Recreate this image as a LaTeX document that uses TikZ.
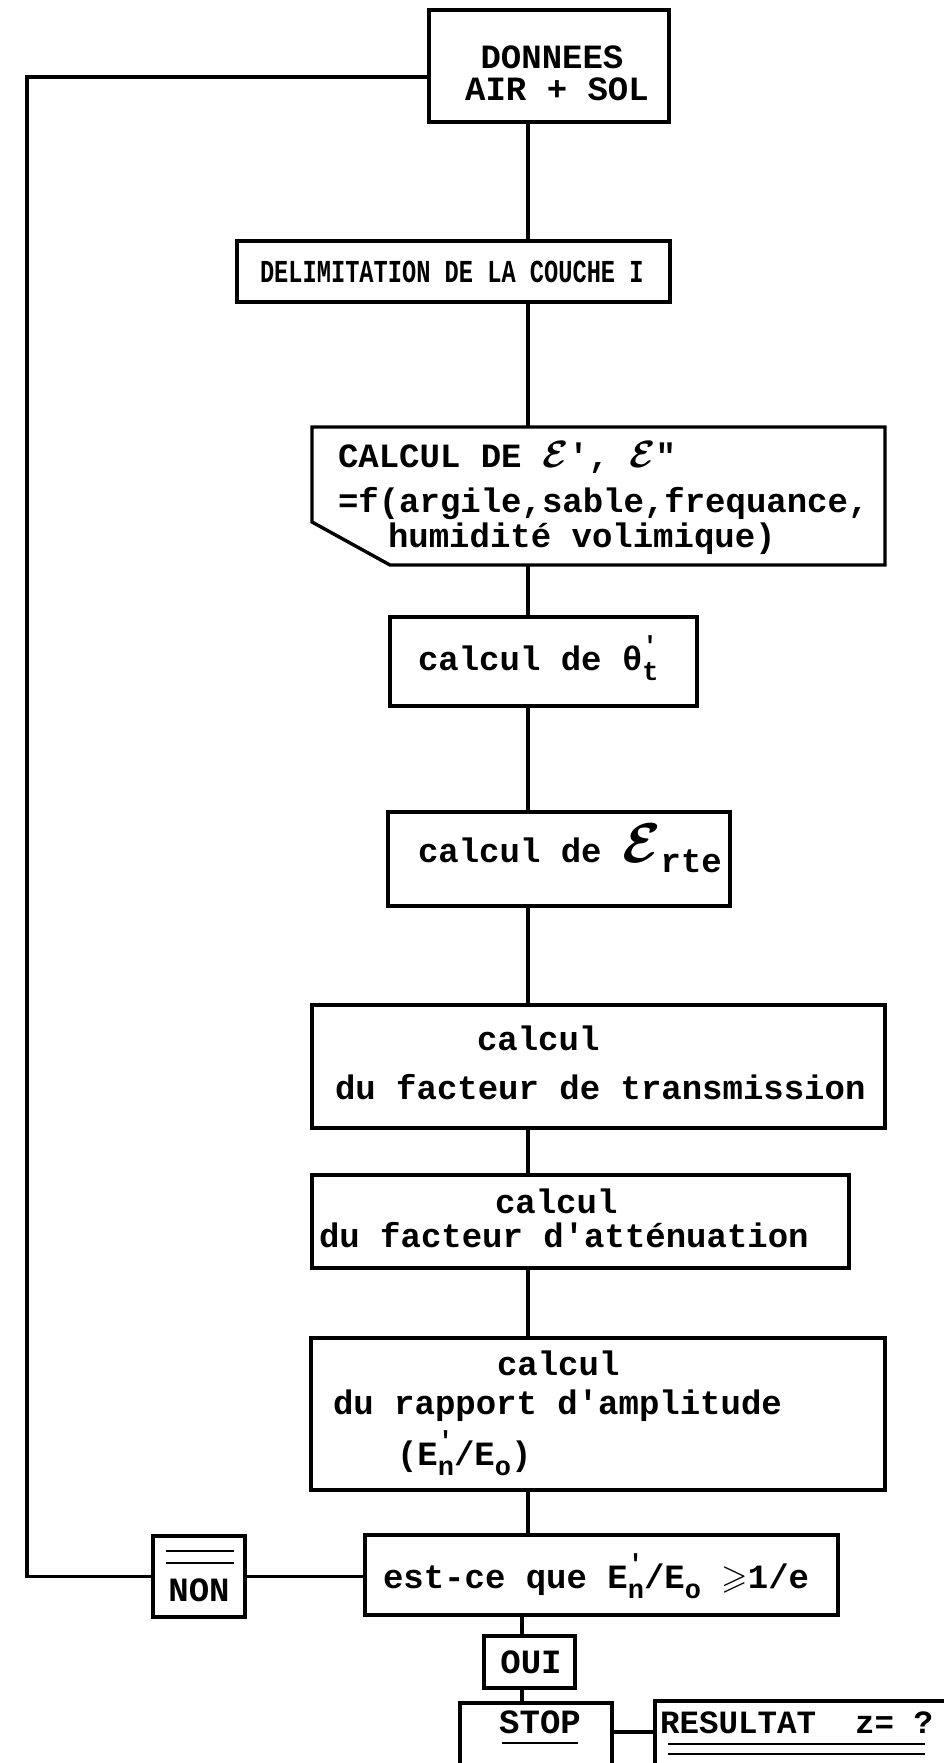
\documentclass[tikz,border=0pt]{standalone}
\usepackage{fontspec}
\usepackage{amssymb}
\usepackage{graphicx}
\setmonofont{Liberation Mono}
\newcommand{\lowx}[1]{\raisebox{-0.32em}{\fontsize{27}{27}\selectfont #1}}
\newcommand{\prm}{\raisebox{0.45em}{\fontsize{26}{26}\selectfont '}}
\newcommand{\scE}[1]{{\fontsize{10}{10}\selectfont\scalebox{#1}{\boldmath$\mathcal{E}$}}}
\begin{document}
\begin{tikzpicture}[x=1pt,y=-1pt,
  box/.style={draw, line width=3.4pt, inner sep=0pt, outer sep=0pt},
  hidden/.style={inner sep=0pt, outer sep=0pt},
  txt/.style={font=\ttfamily\bfseries\fontsize{34}{38}\selectfont, inner sep=0pt, outer sep=0pt},
  link/.style={line width=3.2pt, line join=miter},
  rule/.style={line width=2.6pt}]
\useasboundingbox (0,0) rectangle (943,1763);
\fill[white] (0,0) rectangle (943,1763);

% boxes
\node[box, minimum width=240pt, minimum height=112pt] (b1) at (549,66) {};
\node[box, minimum width=433pt, minimum height=61pt] (b2) at (453.5,271.5) {};
\node[hidden, minimum width=573pt, minimum height=138pt] (b3) at (598.5,496) {};
\draw[line width=3.4pt, line join=miter] (b3.north west) -- (b3.north east) -- (b3.south east)
  -- ([xshift=78pt]b3.south west) -- ([yshift=43pt]b3.south west) -- cycle;
\node[box, minimum width=307pt, minimum height=89pt] (b4) at (543.5,661.5) {};
\node[box, minimum width=342pt, minimum height=94pt] (b5) at (559,859) {};
\node[box, minimum width=573pt, minimum height=123pt] (b6) at (598.5,1066.5) {};
\node[box, minimum width=537pt, minimum height=93pt] (b7) at (580.5,1221.5) {};
\node[box, minimum width=574pt, minimum height=152pt] (b8) at (598,1414) {};
\node[box, minimum width=473pt, minimum height=80pt] (b9) at (601.5,1575) {};
\node[box, minimum width=92pt, minimum height=81pt] (non) at (199,1576.5) {};
\node[box, minimum width=91pt, minimum height=52pt] (oui) at (529.5,1662) {};
\node[box, minimum width=152pt, minimum height=97pt] (stop) at (536,1751.5) {};
\node[box, minimum width=345pt, minimum height=99pt] (res) at (827.5,1750.5) {};

% texts
\node[txt, anchor=base] (t1a) at (552,69) {DONNEES};
\node[txt, anchor=base] (t1b) at (557,101) {AIR + SOL};
\node[txt, anchor=base west] (t2) at (260,282) {\fontsize{32}{34}\selectfont\scalebox{0.74}[1]{DELIMITATION DE LA COUCHE I}};
\node[txt, anchor=base west] (t3a) at (338,467) {CALCUL DE \scE{3.8}', \scE{3.8}"};
\node[txt, anchor=base west] (t3b) at (338,512) {=f(argile,sable,frequance,};
\node[txt, anchor=base west] (t3c) at (388,547) {humidité volimique)};
\node[txt, anchor=base west] (t4) at (418,670) {calcul de θ\rlap{\prm}\lowx{t}};
\node[txt, anchor=base west] (t5) at (418,862) {calcul de \scE{5.6}\raisebox{-0.3em}{rte}};
\node[txt, anchor=base west] (t6a) at (477,1050) {calcul};
\node[txt, anchor=base west] (t6b) at (335,1099) {du facteur de transmission};
\node[txt, anchor=base west] (t7a) at (495,1213) {calcul};
\node[txt, anchor=base west] (t7b) at (319,1247) {du facteur d'atténuation};
\node[txt, anchor=base west] (t8a) at (497,1375) {calcul};
\node[txt, anchor=base west] (t8b) at (333,1414) {du rapport d'amplitude};
\node[txt, anchor=base west] (t8c) at (397,1465) {(E\rlap{\prm}\lowx{n}/E\lowx{o})};
\node[txt, anchor=base west] (t9) at (383,1588) {est-ce que E\rlap{\prm}\lowx{n}/E\lowx{o} $\geqslant$1/e};
\node[txt, anchor=base] (tnon) at (199,1601) {NON};
\node[txt, anchor=base] (toui) at (531,1673) {OUI};
\node[txt, anchor=base] (tstop) at (540,1733) {STOP};
\node[txt, anchor=base west] (tres) at (660,1733) {\fontsize{32.5}{36}\selectfont RESULTAT~~z=~?};

% rules inside boxes
\draw[rule] (166,1551) -- (234,1551);
\draw[rule] (166,1563) -- (234,1563);
\draw[rule] (502,1743) -- (578,1743);
\draw[rule] (668,1744) -- (925,1744);
\draw[rule] (668,1754) -- (925,1754);

% connectors
\coordinate (sp) at (528,0);
\coordinate (sp2) at (522,0);
\coordinate (lft) at (27,800);
\coordinate (sr) at (0,1732);
\draw[link] (b1.south -| sp) -- (b2.north -| sp);
\draw[link] (b2.south -| sp) -- (b3.north -| sp);
\draw[link] (b3.south -| sp) -- (b4.north -| sp);
\draw[link] (b4.south -| sp) -- (b5.north -| sp);
\draw[link] (b5.south -| sp) -- (b6.north -| sp);
\draw[link] (b6.south -| sp) -- (b7.north -| sp);
\draw[link] (b7.south -| sp) -- (b8.north -| sp);
\draw[link] (b8.south -| sp) -- (b9.north -| sp);
\draw[link] (b9.south -| sp2) -- (oui.north -| sp2);
\draw[link] (oui.south -| sp2) -- (stop.north -| sp2);
\draw[link] (non.east) -- (non.east -| b9.west);
\draw[link] ([yshift=-11pt]b1.west) -| (lft) |- (non.west);
\draw[link] (stop.east |- sr) -- (res.west |- sr);
\end{tikzpicture}
\end{document}
